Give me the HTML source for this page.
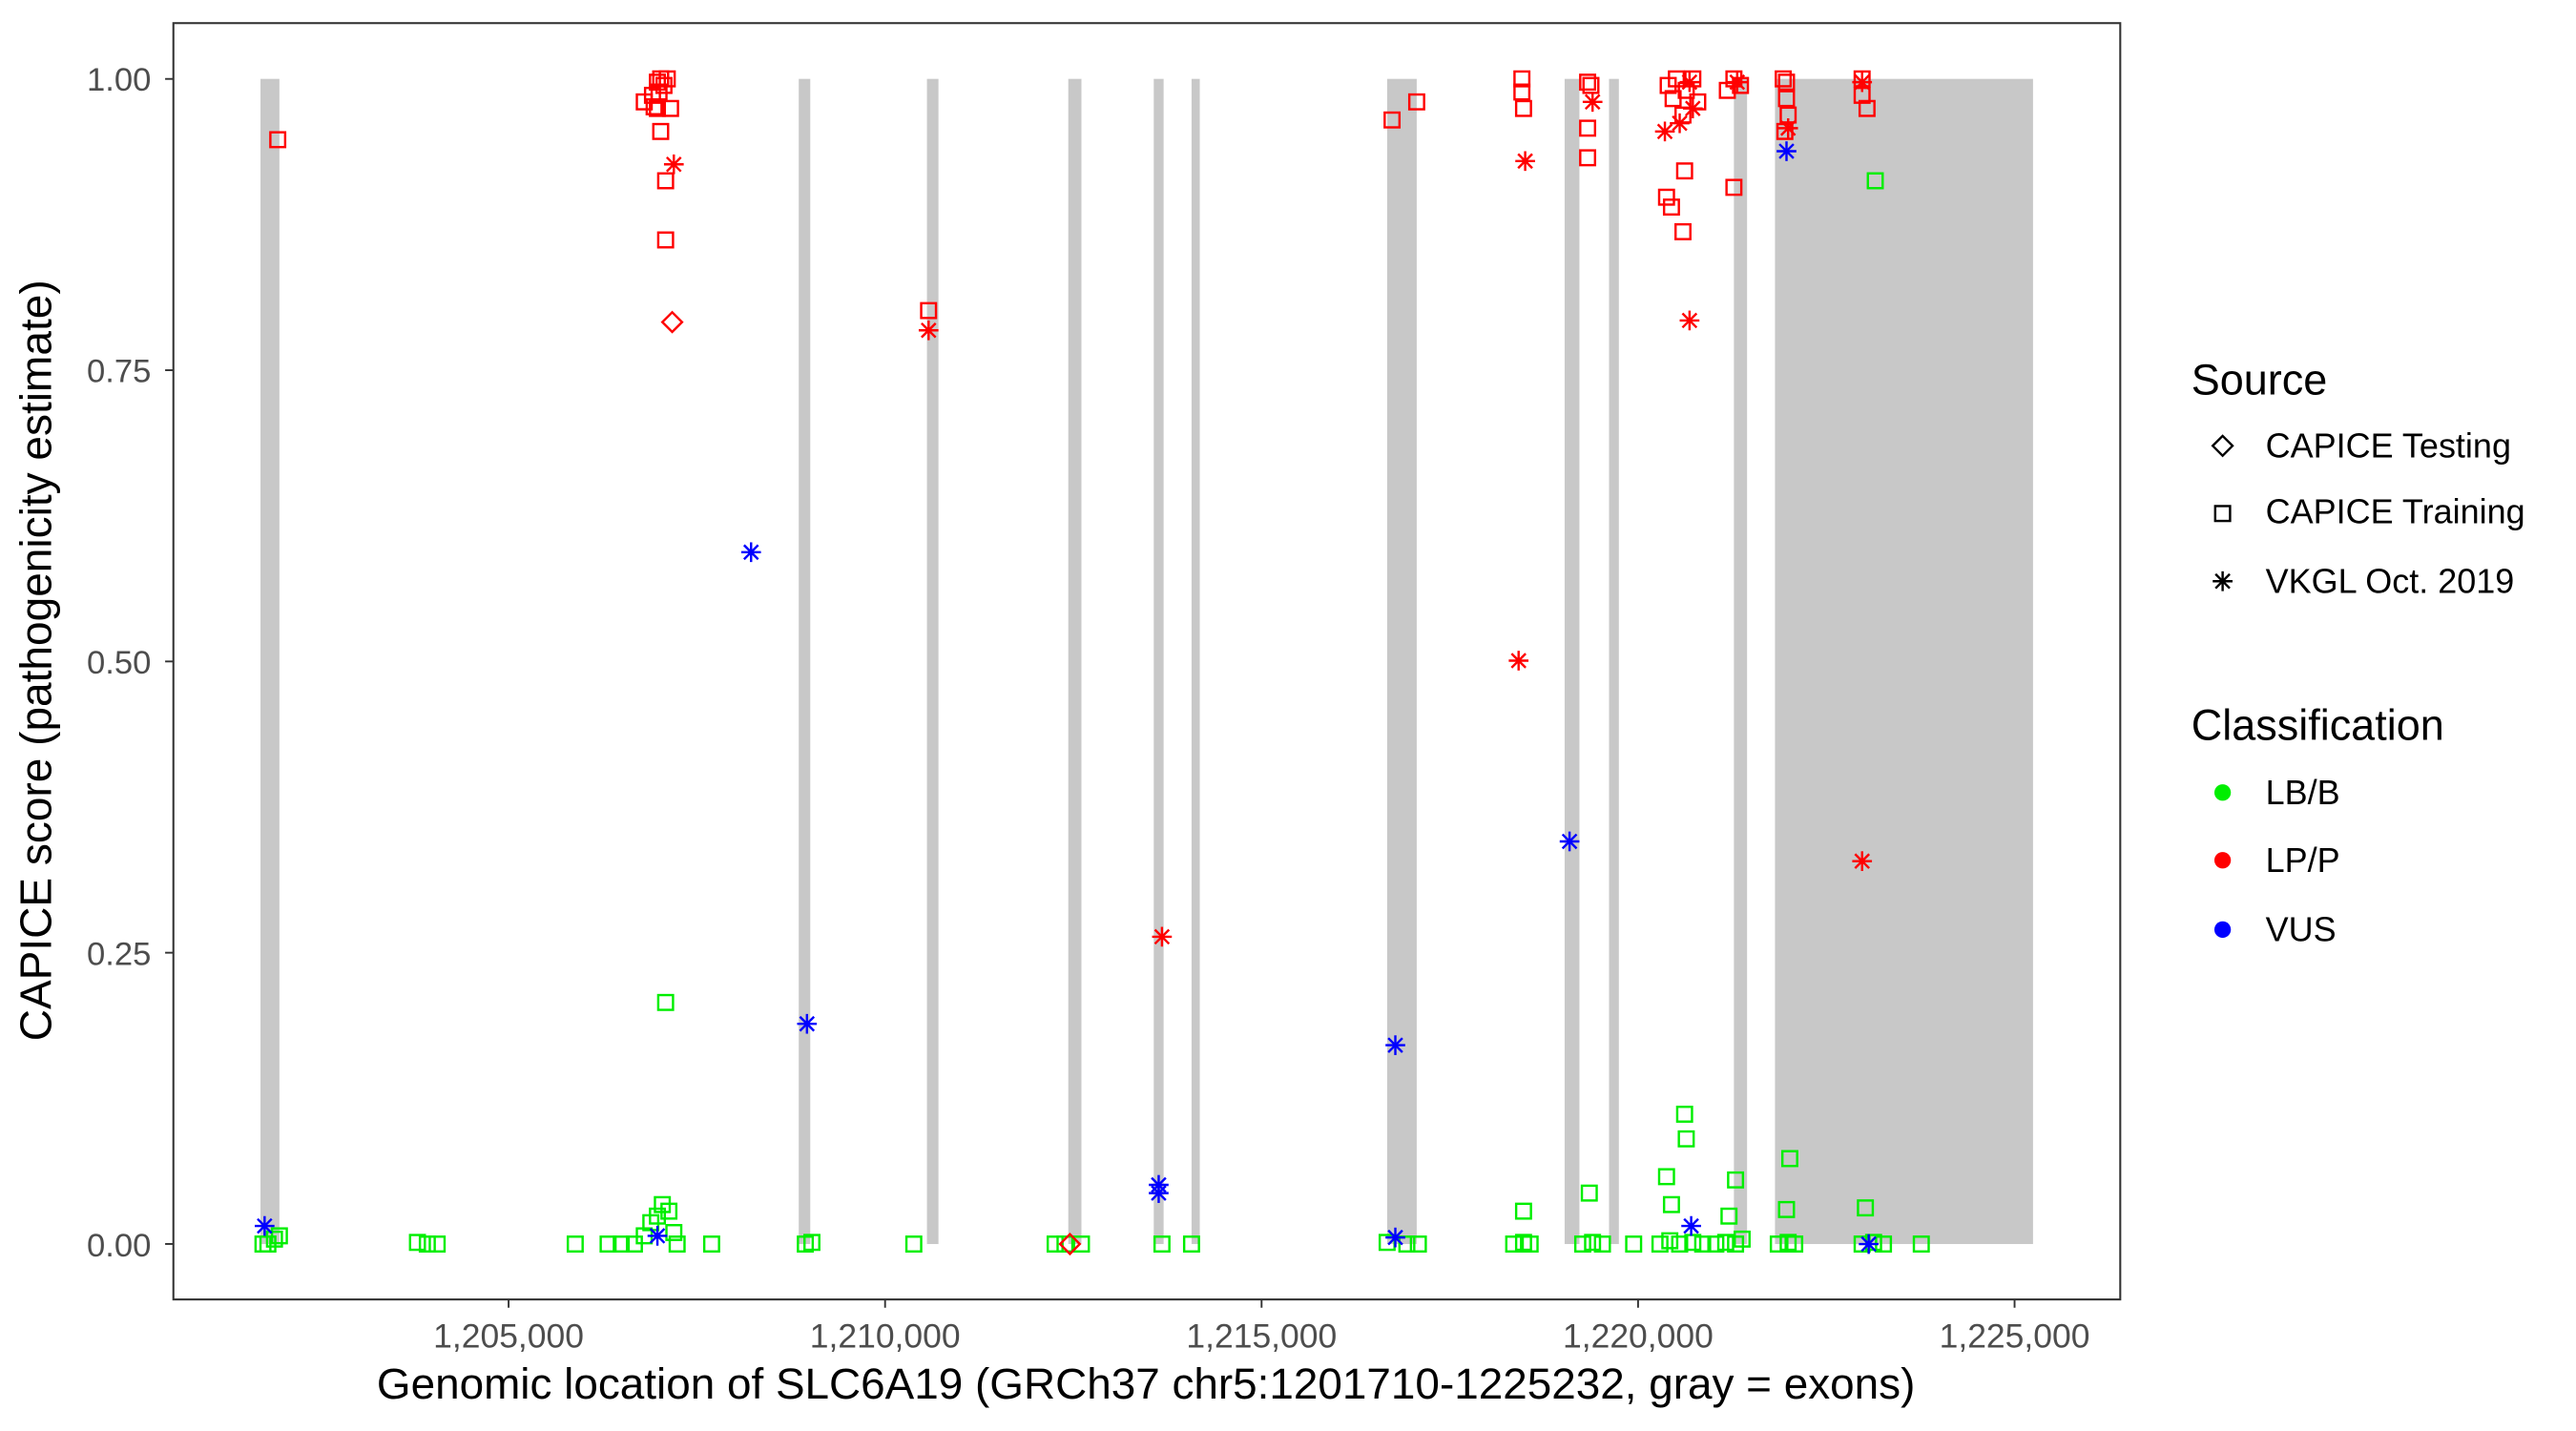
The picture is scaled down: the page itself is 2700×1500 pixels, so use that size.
<!DOCTYPE html>
<html><head><meta charset="utf-8"><style>html,body{margin:0;padding:0;background:#fff}svg{display:block}</style></head>
<body>
<svg width="2700" height="1500" viewBox="0 0 1560 866.67" preserveAspectRatio="none" xmlns="http://www.w3.org/2000/svg" font-family="Liberation Sans, sans-serif">
<defs>
<g id="sq"><rect x="-4.5" y="-4.5" width="9" height="9" fill="none" stroke-width="1.4"/></g>
<g id="di"><path d="M0,-6 L6,0 L0,6 L-6,0 Z" fill="none" stroke-width="1.4"/></g>
<g id="as" stroke-width="1.4"><line x1="-6" y1="0" x2="6" y2="0"/><line x1="0" y1="-6" x2="0" y2="6"/><line x1="-4.3" y1="-4.3" x2="4.3" y2="4.3"/><line x1="-4.3" y1="4.3" x2="4.3" y2="-4.3"/></g>
</defs>
<rect x="105" y="14" width="1179" height="773" fill="#fff"/>
<g transform="scale(0.9953)">
<g fill="#c8c8c8">
<rect x="158.5" y="48" width="11.5" height="709"/><rect x="486" y="48" width="7" height="709"/>
<rect x="564" y="48" width="7" height="709"/><rect x="650" y="48" width="8" height="709"/>
<rect x="702" y="48" width="6" height="709"/><rect x="725" y="48" width="5" height="709"/>
<rect x="844" y="48" width="18" height="709"/><rect x="952" y="48" width="9" height="709"/>
<rect x="979" y="48" width="6" height="709"/><rect x="1055" y="48" width="8" height="709"/>
<rect x="1080" y="48" width="157" height="709"/>
</g>
<g stroke="#00ee00" fill="none">
<use href="#sq" x="163" y="757"/><use href="#sq" x="167" y="754"/><use href="#sq" x="170" y="752"/><use href="#sq" x="160" y="757"/>
<use href="#sq" x="254" y="756"/><use href="#sq" x="260" y="757"/><use href="#sq" x="266" y="757"/>
<use href="#sq" x="350" y="757"/><use href="#sq" x="370" y="757"/><use href="#sq" x="378" y="757"/><use href="#sq" x="386" y="757"/>
<use href="#sq" x="392" y="752"/><use href="#sq" x="396" y="744"/><use href="#sq" x="400" y="740"/><use href="#sq" x="403" y="733"/>
<use href="#sq" x="407" y="737"/><use href="#sq" x="410" y="750"/><use href="#sq" x="412" y="757"/><use href="#sq" x="433" y="757"/>
<use href="#sq" x="405" y="610"/>
<use href="#sq" x="490" y="757"/><use href="#sq" x="494" y="756"/><use href="#sq" x="556" y="757"/>
<use href="#sq" x="642" y="757"/><use href="#sq" x="648" y="757"/><use href="#sq" x="658" y="757"/>
<use href="#sq" x="707" y="757"/><use href="#sq" x="725" y="757"/>
<use href="#sq" x="844" y="756"/><use href="#sq" x="856" y="757"/><use href="#sq" x="863" y="757"/>
<use href="#sq" x="921" y="757"/><use href="#sq" x="927" y="756"/><use href="#sq" x="931" y="757"/><use href="#sq" x="927" y="737"/>
<use href="#sq" x="963" y="757"/><use href="#sq" x="969" y="756"/><use href="#sq" x="975" y="757"/><use href="#sq" x="967" y="726"/>
<use href="#sq" x="994" y="757"/><use href="#sq" x="1010" y="757"/><use href="#sq" x="1016" y="755"/><use href="#sq" x="1022" y="757"/>
<use href="#sq" x="1030" y="756"/><use href="#sq" x="1036" y="757"/><use href="#sq" x="1044" y="757"/><use href="#sq" x="1050" y="756"/>
<use href="#sq" x="1056" y="757"/><use href="#sq" x="1060" y="754"/>
<use href="#sq" x="1025" y="678"/><use href="#sq" x="1026" y="693"/><use href="#sq" x="1014" y="716"/><use href="#sq" x="1017" y="733"/>
<use href="#sq" x="1056" y="718"/><use href="#sq" x="1052" y="740"/><use href="#sq" x="1089" y="705"/><use href="#sq" x="1087" y="736"/>
<use href="#sq" x="1082" y="757"/><use href="#sq" x="1088" y="756"/><use href="#sq" x="1092" y="757"/>
<use href="#sq" x="1135" y="735"/><use href="#sq" x="1133" y="757"/><use href="#sq" x="1140" y="756"/><use href="#sq" x="1146" y="757"/>
<use href="#sq" x="1169" y="757"/><use href="#sq" x="1141" y="110"/>
</g>
<g stroke="#ff0000" fill="none">
<use href="#sq" x="169" y="85"/>
<use href="#sq" x="392" y="62"/><use href="#sq" x="398" y="65"/><use href="#sq" x="400" y="50"/><use href="#sq" x="402" y="48"/>
<use href="#sq" x="404" y="52"/><use href="#sq" x="406" y="48"/><use href="#sq" x="400" y="66"/><use href="#sq" x="408" y="66"/>
<use href="#sq" x="402" y="80"/><use href="#sq" x="405" y="110"/><use href="#sq" x="405" y="146"/><use href="#sq" x="401" y="56"/><use href="#sq" x="397" y="58"/>
<use href="#di" x="409" y="196"/><use href="#as" x="410" y="100"/>
<use href="#sq" x="565" y="189"/><use href="#as" x="565" y="201"/>
<use href="#di" x="651" y="757"/><use href="#as" x="707" y="570"/>
<use href="#sq" x="847" y="73"/><use href="#sq" x="862" y="62"/>
<use href="#sq" x="926" y="48"/><use href="#sq" x="926" y="56"/><use href="#sq" x="927" y="66"/><use href="#as" x="928" y="98"/><use href="#as" x="924" y="402"/>
<use href="#sq" x="966" y="50"/><use href="#sq" x="966" y="78"/><use href="#sq" x="966" y="96"/><use href="#as" x="969" y="62"/><use href="#sq" x="968" y="52"/>
<use href="#as" x="1013" y="80"/><use href="#sq" x="1014" y="120"/><use href="#sq" x="1017" y="126"/><use href="#sq" x="1025" y="104"/><use href="#sq" x="1024" y="141"/><use href="#as" x="1028" y="195"/>
<use href="#sq" x="1015" y="52"/><use href="#sq" x="1018" y="60"/><use href="#sq" x="1020" y="48"/><use href="#sq" x="1024" y="70"/><use href="#sq" x="1026" y="55"/>
<use href="#sq" x="1030" y="48"/><use href="#sq" x="1033" y="62"/><use href="#as" x="1028" y="50"/><use href="#as" x="1030" y="66"/><use href="#as" x="1022" y="75"/>
<use href="#sq" x="1055" y="114"/><use href="#sq" x="1051" y="55"/><use href="#sq" x="1055" y="48"/><use href="#sq" x="1059" y="52"/><use href="#as" x="1057" y="50"/>
<use href="#sq" x="1087" y="50"/><use href="#sq" x="1087" y="60"/><use href="#sq" x="1088" y="70"/><use href="#sq" x="1086" y="80"/><use href="#as" x="1088" y="78"/><use href="#sq" x="1085" y="48"/>
<use href="#sq" x="1133" y="48"/><use href="#sq" x="1133" y="58"/><use href="#sq" x="1136" y="66"/><use href="#as" x="1133" y="50"/><use href="#as" x="1133" y="524"/>
</g>
<g stroke="#0000ff" fill="none">
<use href="#as" x="161" y="746"/><use href="#as" x="457" y="336"/><use href="#as" x="491" y="623"/><use href="#as" x="400" y="752"/>
<use href="#as" x="705" y="721"/><use href="#as" x="705" y="726"/><use href="#as" x="849" y="636"/><use href="#as" x="849" y="753"/>
<use href="#as" x="955" y="512"/><use href="#as" x="1029" y="746"/><use href="#as" x="1087" y="92"/><use href="#as" x="1137" y="757"/>
</g>
</g>
<rect x="105" y="14" width="1179" height="773" fill="none" stroke="#333" stroke-width="1.2"/>
<g stroke="#333" stroke-width="1.1">
<line x1="100" y1="47.8" x2="105" y2="47.8"/><line x1="100" y1="224.2" x2="105" y2="224.2"/><line x1="100" y1="400.6" x2="105" y2="400.6"/><line x1="100" y1="577" x2="105" y2="577"/><line x1="100" y1="753.4" x2="105" y2="753.4"/>
<line x1="308" y1="787" x2="308" y2="792"/><line x1="536" y1="787" x2="536" y2="792"/><line x1="764" y1="787" x2="764" y2="792"/><line x1="992" y1="787" x2="992" y2="792"/><line x1="1220" y1="787" x2="1220" y2="792"/>
</g>
<g fill="#4d4d4d" font-size="20" text-anchor="end">
<text x="91.5" y="55">1.00</text><text x="91.5" y="231.5">0.75</text><text x="91.5" y="408">0.50</text><text x="91.5" y="584.5">0.25</text><text x="91.5" y="761">0.00</text>
</g>
<g fill="#4d4d4d" font-size="20.5" text-anchor="middle">
<text x="308" y="816">1,205,000</text><text x="536" y="816">1,210,000</text><text x="764" y="816">1,215,000</text><text x="992" y="816">1,220,000</text><text x="1220" y="816">1,225,000</text>
</g>
<text x="694" y="847" font-size="26.5" text-anchor="middle">Genomic location of SLC6A19 (GRCh37 chr5:1201710-1225232, gray = exons)</text>
<text transform="translate(31,400) rotate(-90)" font-size="26.6" text-anchor="middle">CAPICE score (pathogenicity estimate)</text>
<text x="1327" y="239" font-size="26">Source</text>
<g stroke="#000" fill="none"><use href="#di" x="1346" y="270"/><use href="#sq" x="1346" y="311"/><use href="#as" x="1346" y="352"/></g>
<g font-size="20.8"><text x="1372" y="277">CAPICE Testing</text><text x="1372" y="317">CAPICE Training</text><text x="1372" y="359">VKGL Oct. 2019</text></g>
<text x="1327" y="448" font-size="26">Classification</text>
<circle cx="1346" cy="480" r="5" fill="#00ee00"/><circle cx="1346" cy="521" r="5" fill="#ff0000"/><circle cx="1346" cy="563" r="5" fill="#0000ff"/>
<g font-size="20.8"><text x="1372" y="487">LB/B</text><text x="1372" y="528">LP/P</text><text x="1372" y="570">VUS</text></g>
</svg>
</body></html>
